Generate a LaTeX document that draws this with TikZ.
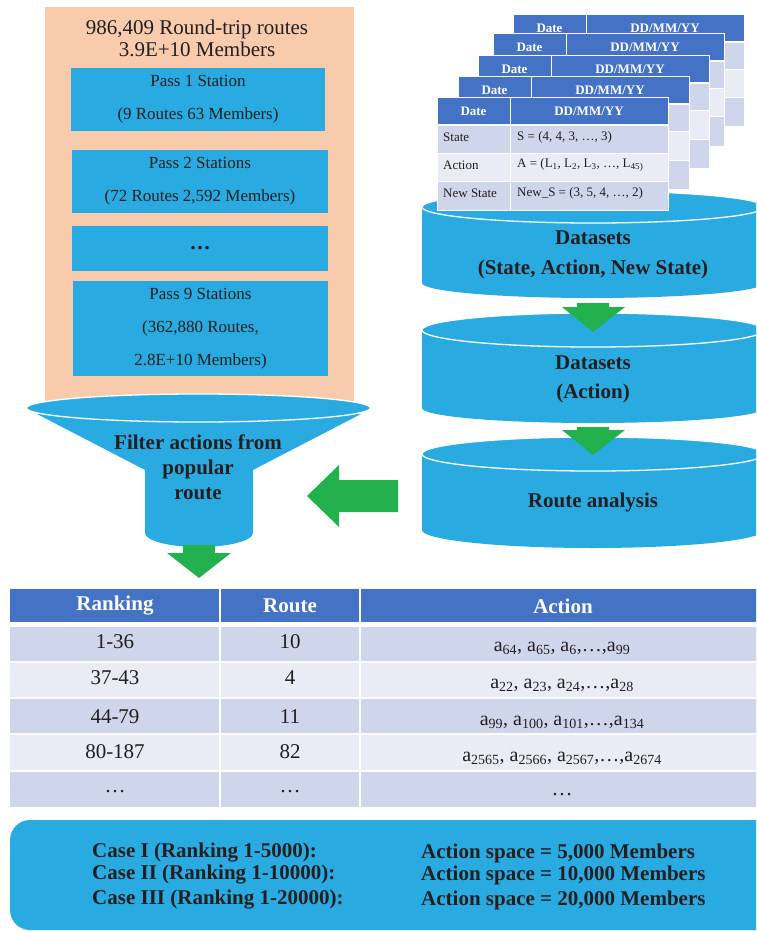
\documentclass[tikz,border=0pt]{standalone}
\usepackage{fontspec}
\setmainfont{Liberation Serif}
\definecolor{peach}{HTML}{F8CBAD}
\definecolor{skyb}{HTML}{29ABE2}
\definecolor{grn}{HTML}{22B14C}
\definecolor{hdr}{HTML}{4472C4}
\definecolor{rowa}{HTML}{CFD5EA}
\definecolor{rowb}{HTML}{E9EBF5}
\definecolor{ink}{HTML}{231F20}
\newcommand\myfT{\fontsize{21}{22}\selectfont}
\newcommand\myfP{\fontsize{17}{33}\selectfont}
\newcommand\myfB{\bfseries\fontsize{21}{25}\selectfont}
\newcommand\myfR{\fontsize{21}{25}\selectfont}
\newcommand\myfA{\fontsize{20}{24}\selectfont}
\newcommand\myfS{\fontsize{13}{15}\selectfont}
\newcommand\myfSB{\bfseries\fontsize{13}{15}\selectfont}
\tikzset{
  txt/.style={inner sep=0pt, text=ink},
  passbox/.style={fill=skyb, inner sep=0pt, text=ink, align=center, font=\myfP},
  tabhdr/.style={inner sep=0pt, text=white, font=\myfSB},
  tabtxt/.style={inner sep=0pt, text=ink, font=\myfS, anchor=west},
  bighdr/.style={inner sep=0pt, text=white, font=\myfB},
  bigtxt/.style={inner sep=0pt, text=ink, font=\myfR},
  acttxt/.style={inner sep=0pt, text=ink, font=\myfA},
  cyltxt/.style={inner sep=0pt, text=ink, font=\myfB},
  casetxt/.style={inner sep=0pt, text=ink, font=\myfB, anchor=west},
  greenarrow/.style={fill=grn},
  rim/.style={fill=skyb, draw=white, line width=1.3pt},
}
\newcommand\stacktab[3]{%
  \begin{scope}[shift={(#1,#2)}]
    \fill[hdr] (0,0) rectangle (231,27);
    \fill[rowa] (0,27) rectangle (231,55);
    \fill[rowb] (0,55) rectangle (231,83);
    \fill[rowa] (0,83) rectangle (231,112);
    \draw[white,line width=1pt] (73,0) -- (73,112);
    \draw[white,line width=1.5pt] (0,27) -- (231,27);
    \draw[white,line width=1pt] (0,55) -- (231,55) (0,83) -- (231,83);
    \draw[white,line width=1pt] (0,0) rectangle (231,112);
    \node[tabhdr] (#3d) at (36.5,13.5) {Date};
    \node[tabhdr] (#3v) at (152,13.5) {DD/MM/YY};
  \end{scope}}
\begin{document}
\begin{tikzpicture}[x=1pt,y=-1pt]
\useasboundingbox (0,0) rectangle (756,931);
\clip (0,0) rectangle (756,931);

% left panel
\fill[peach] (45,7) rectangle (354,405);
\node[txt, font=\myfT, align=center] (ttl) at (197,38) {986,409 Round-trip routes\\3.9E+10 Members};
\node[passbox, minimum width=254pt, minimum height=63pt] (p1) at (198,99.5) {Pass 1 Station\\(9 Routes 63 Members)};
\node[passbox, minimum width=256pt, minimum height=63pt] (p2) at (200,181.5) {Pass 2 Stations\\(72 Routes 2,592 Members)};
\node[passbox, minimum width=256pt, minimum height=45pt, font=\myfB] (pd) at (200,248.5) {…};
\node[passbox, minimum width=255pt, minimum height=95pt] (p9) at (200.5,328.5) {Pass 9 Stations\\(362,880 Routes,\\2.8E+10 Members)};

% funnel
\fill[skyb] (37,414) -- (145,470) -- (145,533) arc[start angle=180,end angle=360,x radius=54pt,y radius=14pt] -- (253,470) -- (361,414) -- cycle;
\filldraw[rim] (198.5,408) ellipse [x radius=172pt, y radius=14pt];
\node[txt, font=\myfB, align=center] (fun) at (198,467) {Filter actions from\\popular\\route};

% cylinders
\fill[skyb] (422,207) -- (422,283) arc[start angle=180,end angle=360,x radius=171pt,y radius=15pt] -- (764,207) -- cycle;
\filldraw[rim] (593,207) ellipse [x radius=171pt, y radius=16pt];
\fill[skyb] (422,330) -- (422,408) arc[start angle=180,end angle=360,x radius=171pt,y radius=15pt] -- (764,330) -- cycle;
\filldraw[rim] (593,330) ellipse [x radius=171pt, y radius=17pt];
\fill[skyb] (422,454) -- (422,530) arc[start angle=180,end angle=360,x radius=171pt,y radius=18pt] -- (764,454) -- cycle;
\filldraw[rim] (593,454) ellipse [x radius=171pt, y radius=17pt];

% stacked tables
\stacktab{513}{15}{tA}
\stacktab{493}{34}{tB}
\stacktab{478}{56}{tC}
\stacktab{458}{77}{tD}
\stacktab{437}{98}{tE}
\node[tabtxt] (s1) at (443,137) {State};
\node[tabtxt] (s2) at (517,137) {S = (4, 4, 3, …, 3)};
\node[tabtxt] (a1) at (443,165) {Action};
\node[tabtxt] (a2) at (517,165) {A = (L\textsubscript{1}, L\textsubscript{2}, L\textsubscript{3}, …, L\textsubscript{45)}};
\node[tabtxt] (n1) at (443,193) {New State};
\node[tabtxt] (n2) at (517,193) {New\_S = (3, 5, 4, …, 2)};

% cylinder texts
\node[cyltxt] (c1a) at (593,238) {Datasets};
\node[cyltxt] (c1b) at (593,269) {(State, Action, New State)};
\node[cyltxt] (c2a) at (593,363) {Datasets};
\node[cyltxt] (c2b) at (593,393) {(Action)};
\node[cyltxt] (c3a) at (593,502) {Route analysis};

% green arrows
\fill[greenarrow] (577,303) -- (609,303) -- (609,307) -- (625,307) -- (593,332) -- (562,307) -- (577,307) -- cycle;
\fill[greenarrow] (577,427) -- (609,427) -- (609,430) -- (625,430) -- (593,455) -- (562,430) -- (577,430) -- cycle;
\fill[greenarrow] (398,480) -- (339,480) -- (339,465) -- (307,496) -- (339,527) -- (339,512) -- (398,512) -- cycle;
\fill[greenarrow] (183,545) -- (215,545) -- (215,553) -- (231,553) -- (199,578) -- (167,553) -- (183,553) -- cycle;

% bottom table
\fill[hdr] (10,589) rectangle (219,622);
\fill[hdr] (221,589) rectangle (359,622);
\fill[hdr] (361,589) rectangle (770,622);
\foreach \ya/\yb/\c in {627/661/rowa, 662.5/697/rowb, 698.5/733/rowa, 734.5/770/rowb, 771.5/807/rowa}{
  \fill[\c] (10,\ya) rectangle (219,\yb);
  \fill[\c] (221,\ya) rectangle (359,\yb);
  \fill[\c] (361,\ya) rectangle (770,\yb);
}
\node[bighdr] (hr) at (115,606) {Ranking};
\node[bighdr] (hq) at (290,606) {Route};
\node[bighdr] (ha) at (563,606) {Action};
\node[bigtxt] (r1a) at (115,642) {1-36};
\node[bigtxt] (r1b) at (290,642) {10};
\node[acttxt] (r1c) at (562,648) {a\textsubscript{64}, a\textsubscript{65}, a\textsubscript{6},…,a\textsubscript{99}};
\node[bigtxt] (r2a) at (115,678) {37-43};
\node[bigtxt] (r2b) at (290,678) {4};
\node[acttxt] (r2c) at (562,685) {a\textsubscript{22}, a\textsubscript{23}, a\textsubscript{24},…,a\textsubscript{28}};
\node[bigtxt] (r3a) at (115,717) {44-79};
\node[bigtxt] (r3b) at (290,717) {11};
\node[acttxt] (r3c) at (562,722) {a\textsubscript{99}, a\textsubscript{100}, a\textsubscript{101},…,a\textsubscript{134}};
\node[bigtxt] (r4a) at (115,752) {80-187};
\node[bigtxt] (r4b) at (290,752) {82};
\node[acttxt] (r4c) at (562,758) {a\textsubscript{2565}, a\textsubscript{2566}, a\textsubscript{2567},…,a\textsubscript{2674}};
\node[bigtxt] (r5a) at (115,792) {…};
\node[bigtxt] (r5b) at (290,792) {…};
\node[bigtxt] (r5c) at (562,795) {…};

% bottom box
\fill[skyb, rounded corners=20pt] (10,820) rectangle (790,930);
\node[casetxt] (k1) at (92,853) {Case I (Ranking 1-5000):};
\node[casetxt] (k2) at (92,875) {Case II (Ranking 1-10000):};
\node[casetxt] (k3) at (92,900) {Case III (Ranking 1-20000):};
\node[casetxt] (m1) at (421,853) {Action space = 5,000 Members};
\node[casetxt] (m2) at (421,875) {Action space = 10,000 Members};
\node[casetxt] (m3) at (421,900) {Action space = 20,000 Members};
\end{tikzpicture}
\end{document}
